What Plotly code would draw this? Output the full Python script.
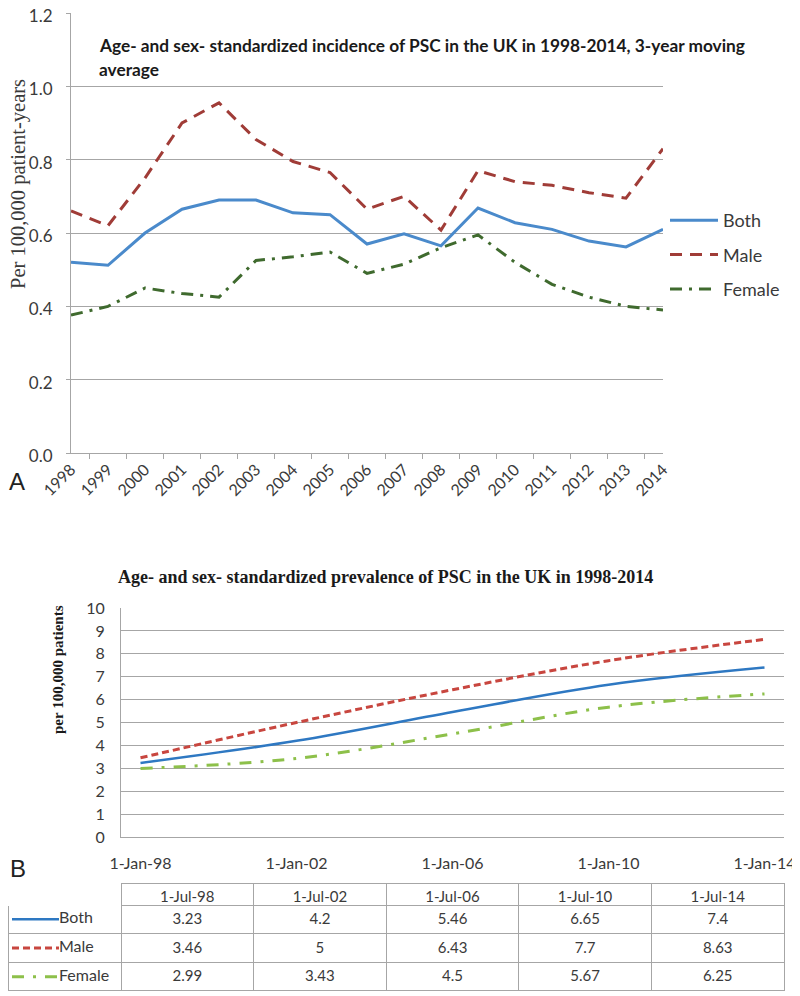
import plotly.graph_objects as go

# the page body keeps its default 8px margin, so the figure is laid out
# in window pixels and shifted back by that offset
OX, OY = 8, 8
W, H = 792, 988

# panel A: 3-year moving average incidence
years = ["1998", "1999", "2000", "2001", "2002", "2003", "2004", "2005", "2006",
         "2007", "2008", "2009", "2010", "2011", "2012", "2013", "2014"]
inc_both = [0.52, 0.512, 0.60, 0.665, 0.69, 0.69, 0.655, 0.65, 0.57,
            0.598, 0.565, 0.668, 0.628, 0.61, 0.578, 0.562, 0.61]
inc_male = [0.66, 0.62, 0.75, 0.90, 0.955, 0.855, 0.795, 0.765, 0.665,
            0.70, 0.608, 0.77, 0.74, 0.73, 0.71, 0.695, 0.83]
inc_female = [0.376, 0.40, 0.45, 0.435, 0.425, 0.525, 0.535, 0.548, 0.49,
              0.515, 0.56, 0.595, 0.52, 0.46, 0.425, 0.40, 0.39]
inc_ticks = [0.0, 0.2, 0.4, 0.6, 0.8, 1.0, 1.2]

# panel B: prevalence
series = ["Both", "Male", "Female"]
prev_years = [1998, 2002, 2006, 2010, 2014]
prev_ticks = ["1-Jan-98", "1-Jan-02", "1-Jan-06", "1-Jan-10", "1-Jan-14"]
prev_dates = ["1-Jul-98", "1-Jul-02", "1-Jul-06", "1-Jul-10", "1-Jul-14"]
prev_both = [3.23, 4.2, 5.46, 6.65, 7.4]
prev_male = [3.46, 5, 6.43, 7.7, 8.63]
prev_female = [2.99, 3.43, 4.5, 5.67, 6.25]

SANS = "Lato"
SERIF = "Liberation Serif"
GRID = "#A6A6A6"
TXT = "#3A3A3A"

B_STYLE = [
    dict(color="#2E78C2", width=2.5),
    dict(color="#C8463F", width=3, dash="7px,4px"),
    dict(color="#8DC04A", width=3, dash="12px,9px,3px,9px"),
]


def px_x(x):
    return max(0.0, (x - OX) / W)


def px_y(y):
    return 1 - (y - OY) / H


fig = go.Figure()

# top chart
fig.add_trace(go.Scatter(x=years, y=inc_both, name="Both", mode="lines",
                         line=dict(color="#4A8ACB", width=3), legendgroup="a"))
fig.add_trace(go.Scatter(x=years, y=inc_male, name="Male", mode="lines",
                         line=dict(color="#A03C37", width=3, dash="12px,8px"), legendgroup="b"))
fig.add_trace(go.Scatter(x=years, y=inc_female, name="Female", mode="lines",
                         line=dict(color="#3F6A2E", width=3, dash="12px,7px,3px,7px"), legendgroup="c"))

# bottom chart
for vals, st in zip([prev_both, prev_male, prev_female], B_STYLE):
    fig.add_trace(go.Scatter(x=prev_years, y=vals, mode="lines", showlegend=False,
                             line=dict(st, shape="spline"),
                             xaxis="x2", yaxis="y2"))

# table under panel B
cols = [[""] * 3] + [[f"{b:g}", f"{m:g}", f"{f:g}"]
                     for b, m, f in zip(prev_both, prev_male, prev_female)]
fig.add_trace(go.Table(
    domain=dict(x=[px_x(8), px_x(784)], y=[px_y(991), px_y(883)]),
    columnwidth=[113, 132.6, 132.6, 132.6, 132.6, 132.6],
    header=dict(values=[""] + prev_dates, height=22, align="center",
                fill_color="rgba(0,0,0,0)",
                line=dict(color=["white"] + [GRID] * 5, width=1),
                font=dict(family=SANS, size=15, color=TXT)),
    cells=dict(values=cols, height=28.5, align="center",
               fill_color="rgba(0,0,0,0)", line=dict(color=GRID, width=1),
               font=dict(family=SANS, size=15, color=TXT)),
))

# legend keys in the first table column
for name, st in zip(series, B_STYLE):
    fig.add_trace(go.Scatter(x=[0, 1], y=[name, name], mode="lines", showlegend=False,
                             line=st, xaxis="x3", yaxis="y3", hoverinfo="skip"))
fig.add_trace(go.Scatter(x=[1] * 3, y=series, mode="text", text=series,
                         textposition="middle right", showlegend=False,
                         textfont=dict(family=SANS, size=16, color=TXT),
                         cliponaxis=False, xaxis="x3", yaxis="y3", hoverinfo="skip"))

ann = [
    dict(text="<b>Age- and sex- standardized incidence of PSC in the UK in 1998-2014, 3-year moving</b>",
         x=px_x(97), y=px_y(46), xanchor="left", yanchor="middle",
         font=dict(family=SANS, size=17.3, color="#1A1A1A")),
    dict(text="<b>average</b>", x=px_x(97), y=px_y(70), xanchor="left", yanchor="middle",
         font=dict(family=SANS, size=17.3, color="#1A1A1A")),
    dict(text="Per 100,000 patient-years", x=px_x(18), y=px_y(184), textangle=-90,
         xanchor="center", yanchor="middle",
         font=dict(family=SERIF, size=20.5, color=TXT)),
    dict(text="A", x=px_x(17), y=px_y(481), xanchor="center", yanchor="middle",
         font=dict(family="Liberation Sans", size=24, color="#222")),
    dict(text="<b>Age- and sex- standardized prevalence of PSC in the UK in 1998-2014</b>",
         x=px_x(385), y=px_y(577), xanchor="center", yanchor="middle",
         font=dict(family=SERIF, size=18, color="#1A1A1A")),
    dict(text="<b>per 100,000 patients</b>", x=px_x(58), y=px_y(670), textangle=-90,
         xanchor="center", yanchor="middle",
         font=dict(family=SERIF, size=15, color="#1A1A1A")),
    dict(text="B", x=px_x(18), y=px_y(868), xanchor="center", yanchor="middle",
         font=dict(family="Liberation Sans", size=24, color="#222")),
]
for a in ann:
    a.update(xref="paper", yref="paper", showarrow=False)

fig.update_layout(
    template="none",
    width=W, height=H,
    margin=dict(l=0, r=0, t=0, b=0),
    paper_bgcolor="white", plot_bgcolor="white",
    font=dict(family=SANS, color=TXT),
    annotations=ann,
    legend=dict(x=px_x(665), y=px_y(202), xanchor="left", yanchor="top",
                traceorder="grouped", tracegroupgap=8, itemwidth=48,
                font=dict(family=SANS, size=18, color=TXT), bgcolor="rgba(0,0,0,0)"),
    xaxis=dict(domain=[px_x(71), px_x(663)], type="category", tickangle=-45,
               ticks="outside", tickson="boundaries", ticklen=5, tickcolor=GRID,
               showline=True, linecolor=GRID, showgrid=False, automargin=False,
               tickfont=dict(family=SANS, size=16, color=TXT), anchor="y"),
    yaxis=dict(domain=[px_y(453), px_y(12.9)], range=[0, 1.2003],
               tickvals=inc_ticks, ticktext=[f"{v:.1f}" for v in inc_ticks],
               ticks="outside", ticklen=4, tickcolor=GRID, ticklabelstandoff=10,
               ticklabeloverflow="allow", ticklabelshift=3,
               showline=True, linecolor=GRID, gridcolor=GRID, zeroline=False, automargin=False,
               tickfont=dict(family=SANS, size=17, color=TXT), anchor="x"),
    xaxis2=dict(domain=[px_x(121), px_x(784)], range=[1997.5, 2014.5],
                tickvals=prev_years, ticktext=prev_ticks, ticks="", ticklabelstandoff=12,
                showline=True, linecolor=GRID, showgrid=False, zeroline=False, automargin=False,
                tickfont=dict(family=SANS, size=16, color=TXT), anchor="y2"),
    yaxis2=dict(domain=[px_y(837), px_y(608)], range=[0, 10], dtick=1,
                ticks="", ticklabelstandoff=12,
                showline=True, linecolor=GRID, gridcolor=GRID, zeroline=False, automargin=False,
                tickfont=dict(family=SANS, size=16, color=TXT), anchor="x2"),
    xaxis3=dict(domain=[px_x(12), px_x(59)], range=[0, 1], visible=False,
                automargin=False, anchor="y3"),
    yaxis3=dict(domain=[px_y(991), px_y(905)], type="category", categoryarray=series,
                range=[2.5, -0.5], visible=False, automargin=False, anchor="x3"),
)

fig.write_html("out.html")
